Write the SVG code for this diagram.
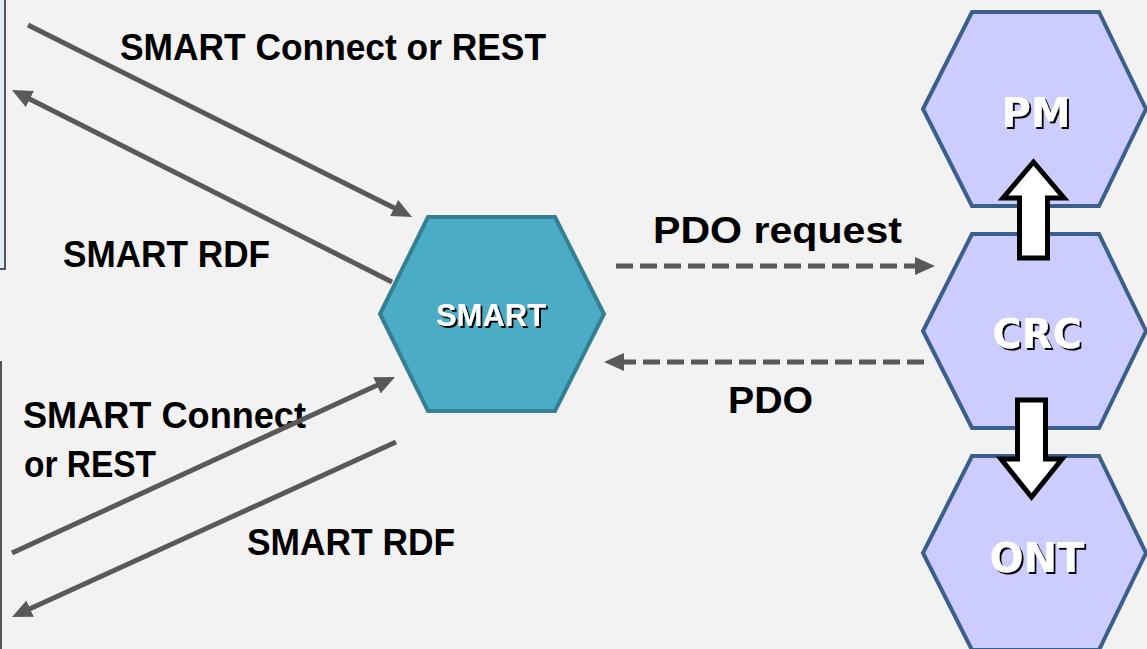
<svg xmlns="http://www.w3.org/2000/svg" width="1147" height="649" viewBox="0 0 1147 649">
<defs>
<style>
.lbl{font-family:"Liberation Sans",Arial,sans-serif;font-weight:bold;font-size:36px;fill:#000}
.conn{stroke:#595959;stroke-width:5;fill:none}
.dash{stroke-dasharray:17 7}
.hexr{fill:#ccccff;stroke:#3a5f8c;stroke-width:4}
.hexs{fill:#4bacc6;stroke:#357f93;stroke-width:4}
.wt{font-family:"DejaVu Sans",Verdana,sans-serif;font-weight:bold;font-size:40px;fill:#fff;text-anchor:middle;filter:url(#sh)}
.wts{font-family:"Liberation Sans",Arial,sans-serif;font-weight:bold;font-size:31px;fill:#fff;text-anchor:middle;filter:url(#sh)}
.fat{fill:#fff;stroke:#000;stroke-width:5;stroke-linejoin:miter}
.box{fill:#deeef4;stroke:#222;stroke-width:1.5}
</style>
<marker id="ah" markerUnits="userSpaceOnUse" markerWidth="20" markerHeight="18" refX="8" refY="9" orient="auto" viewBox="0 0 20 18">
<path d="M0,0 L20,9 L0,18 z" fill="#595959"/>
</marker>
<filter id="sh" x="-10%" y="-10%" width="130%" height="130%">
<feDropShadow dx="2" dy="2" stdDeviation="0.4" flood-color="#000" flood-opacity="1"/>
</filter>
</defs>
<rect x="0" y="0" width="1147" height="649" fill="#f2f2f2"/>
<g id="box-top"><rect class="box" x="-20" y="-20" width="25" height="289"/></g>
<g id="box-bottom"><rect class="box" x="-30" y="362" width="31" height="320"/></g>
<g id="labels">
<text class="lbl" x="120" y="60" textLength="426" lengthAdjust="spacingAndGlyphs">SMART Connect or REST</text>
<text class="lbl" x="63" y="267" textLength="207" lengthAdjust="spacingAndGlyphs">SMART RDF</text>
<text class="lbl" x="23" y="428" textLength="283" lengthAdjust="spacingAndGlyphs">SMART Connect</text>
<text class="lbl" x="24" y="477" textLength="132" lengthAdjust="spacingAndGlyphs">or REST</text>
<text class="lbl" x="247" y="555" textLength="208" lengthAdjust="spacingAndGlyphs">SMART RDF</text>
<text class="lbl" x="653" y="243" textLength="249" lengthAdjust="spacingAndGlyphs">PDO request</text>
<text class="lbl" x="728" y="413" textLength="85" lengthAdjust="spacingAndGlyphs">PDO</text>
</g>
<g id="node-smart">
<polygon class="hexs" points="380,314 428,217 555,217 604,314 555,411 428,411"/>
<text class="wts" x="491" y="326">SMART</text>
</g>
<g id="node-pm">
<polygon class="hexr" points="923,109 972,12 1099,12 1146,109 1099,206 972,206"/>
<text class="wt" x="1036" y="127">PM</text>
</g>
<g id="node-crc">
<polygon class="hexr" points="923,331 972,234 1099,234 1146,331 1099,428 972,428"/>
<text class="wt" x="1037" y="348">CRC</text>
</g>
<g id="node-ont">
<polygon class="hexr" points="923,553 972,456 1099,456 1146,553 1099,650 972,650"/>
<text class="wt" x="1037" y="572">ONT</text>
</g>
<g id="connectors">
<line class="conn" x1="28" y1="25" x2="401.3" y2="211.6" marker-end="url(#ah)"/>
<line class="conn" x1="392" y1="282" x2="22.7" y2="95.4" marker-end="url(#ah)"/>
<line class="conn" x1="12" y1="553" x2="384.1" y2="382" marker-end="url(#ah)"/>
<line class="conn" x1="396" y1="442" x2="22.9" y2="612" marker-end="url(#ah)"/>
<line class="conn dash" x1="616" y1="266" x2="923" y2="266" marker-end="url(#ah)"/>
<line class="conn dash" x1="924" y1="362" x2="616" y2="362" marker-end="url(#ah)"/>
<polygon class="fat" points="1033.5,162 1064,198 1047.5,198 1047.5,258 1019.5,258 1019.5,198 1003,198"/>
<polygon class="fat" points="1017.5,400 1045.5,400 1045.5,459 1062,459 1031.5,497 1001,459 1017.5,459"/>
</g>
</svg>
